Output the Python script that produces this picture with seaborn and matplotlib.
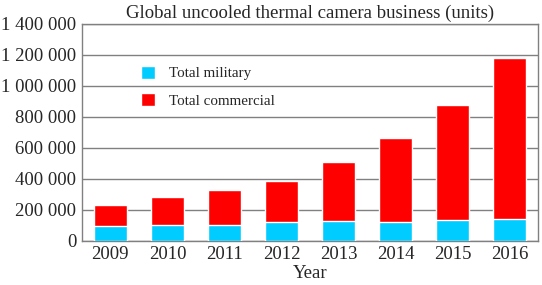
import matplotlib
matplotlib.use("Agg")
import matplotlib.pyplot as plt
import matplotlib.ticker as mticker
import seaborn as sns
import pandas as pd

# values (units)
years = ["2009", "2010", "2011", "2012", "2013", "2014", "2015", "2016"]
military = [93000, 103000, 103000, 119000, 127000, 123000, 134000, 142000]
total = [232000, 280000, 327000, 385000, 506000, 665000, 875000, 1183000]
commercial = [t - m for t, m in zip(total, military)]

df = pd.DataFrame({"Year": years, "military": military, "commercial": commercial, "total": total})

sns.set_style("white")
plt.rcParams["font.family"] = ["Liberation Serif", "DejaVu Serif"]

fig, ax = plt.subplots(figsize=(5.42, 2.85), dpi=100)

# stacked bars: draw total (red) then military (cyan) over it
sns.barplot(data=df, x="Year", y="total", color="#ff0000", width=0.58,
            saturation=1, ax=ax, label="Total commercial", zorder=2)
sns.barplot(data=df, x="Year", y="military", color="#00ccff", width=0.58,
            saturation=1, ax=ax, label="Total military", zorder=3)

ax.set_ylim(0, 1400000)
ax.set_xlim(-0.5, len(years) - 0.5)
ax.yaxis.set_major_locator(mticker.MultipleLocator(200000))
ax.yaxis.set_major_formatter(mticker.FuncFormatter(lambda v, p: f"{int(v):,}".replace(",", " ")))
ax.grid(True, axis="y", color="#808080", linewidth=1.0, zorder=0)
ax.set_axisbelow(True)
for s in ax.spines.values():
    s.set_color("#808080")
    s.set_linewidth(1.0)
ax.tick_params(axis="both", length=0, labelsize=13.5, pad=4)
ax.set_ylabel("")
ax.set_xlabel("Year", fontsize=13.5, labelpad=1)
ax.set_title("Global uncooled thermal camera business (units)", fontsize=13.5, pad=4)

handles, labels = ax.get_legend_handles_labels()
order = [labels.index("Total military"), labels.index("Total commercial")]
ax.legend([handles[i] for i in order], [labels[i] for i in order],
          loc="upper left", bbox_to_anchor=(0.1, 0.87), frameon=False,
          fontsize=10.8, handlelength=0.95, handleheight=0.95, labelspacing=0.85,
          handletextpad=0.9)

fig.subplots_adjust(left=0.151, right=0.993, top=0.916, bottom=0.155)
fig.savefig("out.png", dpi=100)
